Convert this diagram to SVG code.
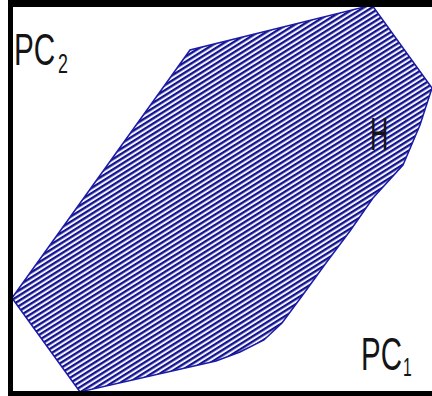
<svg xmlns="http://www.w3.org/2000/svg" width="432" height="396" viewBox="0 0 432 396">
<defs>
<pattern id="hatch" patternUnits="userSpaceOnUse" width="12" height="4.4" patternTransform="rotate(-32)">
<rect width="12" height="4.4" fill="#f4f4ff"/>
<rect y="0" width="12" height="2.3" fill="#12128e"/>
</pattern>
<style>
.lbl{font-family:"Liberation Sans",Arial,sans-serif;fill:#141414;}
</style>
</defs>
<rect width="432" height="396" fill="#ffffff"/>
<g id="hull">
<polygon points="12,298 190,50 372,5 432,88 420,125 403,165 373,198 350,231 326,263 302,296 282,323 264,340 240,352 216,361 80,392" fill="url(#hatch)" stroke="#1a1aa8" stroke-width="1.5"/>
</g>
<g id="frame" fill="#000">
<rect x="8" y="0" width="424" height="7"/>
<rect x="8" y="0" width="5" height="396"/>
<rect x="8" y="391" width="424" height="5"/>
</g>
<g id="labels">
<text class="lbl" transform="translate(14,65) scale(0.66,1)" font-size="45">PC</text>
<text class="lbl" transform="translate(58,73) scale(0.66,1)" font-size="27">2</text>
<text class="lbl" transform="translate(361,370) scale(0.64,1)" font-size="46">PC</text>
<text class="lbl" transform="translate(403,376) scale(0.6,1)" font-size="26">1</text>
<text class="lbl" transform="translate(370,150) scale(0.55,1)" font-size="46">H</text>
</g>
</svg>
